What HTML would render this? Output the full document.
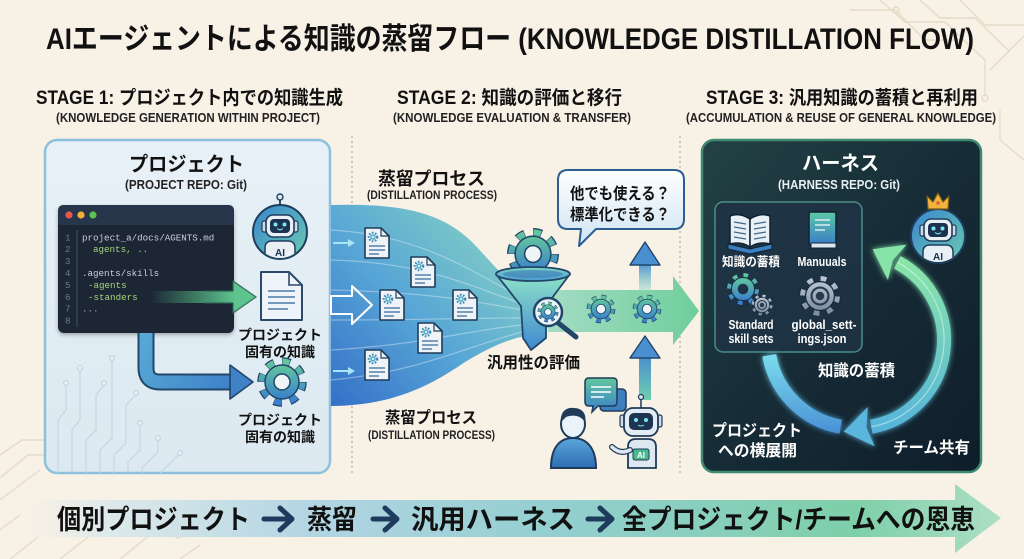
<!DOCTYPE html>
<html><head><meta charset="utf-8"><style>
html,body{margin:0;padding:0;background:#f8f1e6;}
svg{display:block;}
text{font-family:"Liberation Sans","Noto Sans CJK JP",sans-serif;font-weight:700;}
.m{font-family:"Liberation Mono","DejaVu Sans Mono",monospace;font-weight:400;}
</style></head><body>
<svg xmlns="http://www.w3.org/2000/svg" width="1024" height="559" viewBox="0 0 1024 559">
<defs>
<linearGradient id="gPanelL" x1="0" y1="0" x2="0" y2="1"><stop offset="0" stop-color="#e7f1f7"/><stop offset="1" stop-color="#dce9f1"/></linearGradient>
<linearGradient id="gPanelR" x1="0" y1="0" x2="1" y2="1"><stop offset="0" stop-color="#234246"/><stop offset="0.5" stop-color="#162c36"/><stop offset="1" stop-color="#0f1d2a"/></linearGradient>
<linearGradient id="gStream" x1="0" y1="1" x2="1" y2="0"><stop offset="0" stop-color="#3470c8"/><stop offset="0.45" stop-color="#58a6d6"/><stop offset="1" stop-color="#8edac0"/></linearGradient>
<linearGradient id="gFade" gradientUnits="userSpaceOnUse" x1="150" y1="0" x2="235" y2="0"><stop offset="0" stop-color="#5cc48c" stop-opacity="0"/><stop offset="1" stop-color="#5cc48c"/></linearGradient>
<linearGradient id="gL" gradientUnits="userSpaceOnUse" x1="146" y1="333" x2="240" y2="390"><stop offset="0" stop-color="#58a8d6"/><stop offset="1" stop-color="#3b7ec8"/></linearGradient>
<linearGradient id="gBig" x1="0" y1="0" x2="1" y2="0"><stop offset="0" stop-color="#a3dcc4"/><stop offset="1" stop-color="#6fce9c"/></linearGradient>
<linearGradient id="gGear" x1="0" y1="0" x2="0" y2="1"><stop offset="0" stop-color="#62c69c"/><stop offset="1" stop-color="#3a80cc"/></linearGradient>
<linearGradient id="gGray" x1="0" y1="0" x2="0" y2="1"><stop offset="0" stop-color="#b8c4d2"/><stop offset="1" stop-color="#7d8ea4"/></linearGradient>
<linearGradient id="gRobot" x1="0" y1="0" x2="1" y2="1"><stop offset="0" stop-color="#3a86cf"/><stop offset="1" stop-color="#6acab0"/></linearGradient>
<linearGradient id="gBubble" x1="0" y1="0" x2="0" y2="1"><stop offset="0" stop-color="#ffffff"/><stop offset="1" stop-color="#cde3f4"/></linearGradient>
<linearGradient id="gUp1" x1="0" y1="0" x2="0" y2="1"><stop offset="0" stop-color="#4a8fd0"/><stop offset="1" stop-color="#8ad6c0" stop-opacity="0.4"/></linearGradient>
<linearGradient id="gUp2" x1="0" y1="0" x2="0" y2="1"><stop offset="0" stop-color="#4a8fd0"/><stop offset="1" stop-color="#6fcfae"/></linearGradient>
<linearGradient id="gFunnel" x1="0" y1="0" x2="0" y2="1"><stop offset="0" stop-color="#8fe2c8"/><stop offset="1" stop-color="#3f88d0"/></linearGradient>
<linearGradient id="gRim" x1="0" y1="0" x2="0" y2="1"><stop offset="0" stop-color="#7fd8c4"/><stop offset="1" stop-color="#4a9ad0"/></linearGradient>
<linearGradient id="gBanner" gradientUnits="userSpaceOnUse" x1="30" y1="0" x2="1001" y2="0"><stop offset="0" stop-color="#f8f1e6"/><stop offset="0.08" stop-color="#dde9ea"/><stop offset="0.3" stop-color="#b1d4e3"/><stop offset="0.55" stop-color="#92cfcf"/><stop offset="0.85" stop-color="#7ecfa9"/><stop offset="1" stop-color="#addfc4"/></linearGradient>
<linearGradient id="gRingR" gradientUnits="userSpaceOnUse" x1="0" y1="250" x2="0" y2="432"><stop offset="0" stop-color="#8ee8a6"/><stop offset="1" stop-color="#56b4dc"/></linearGradient>
<linearGradient id="gRingL" gradientUnits="userSpaceOnUse" x1="0" y1="350" x2="0" y2="432"><stop offset="0" stop-color="#7ee0ee"/><stop offset="1" stop-color="#4a92d6"/></linearGradient>
<linearGradient id="gMan" x1="0" y1="0" x2="0" y2="1"><stop offset="0" stop-color="#5cc8a6"/><stop offset="1" stop-color="#3a7cc8"/></linearGradient>
<linearGradient id="gPerson" x1="0" y1="0" x2="0" y2="1"><stop offset="0" stop-color="#5aa6dc"/><stop offset="1" stop-color="#2f6db4"/></linearGradient>
<filter id="glow" x="-30%" y="-30%" width="160%" height="160%"><feGaussianBlur stdDeviation="3" result="b"/><feMerge><feMergeNode in="b"/><feMergeNode in="SourceGraphic"/></feMerge></filter>
<filter id="sh" x="-10%" y="-10%" width="120%" height="130%"><feDropShadow dx="0" dy="2" stdDeviation="2" flood-opacity="0.3"/></filter>
<clipPath id="clipR"><circle r="26"/></clipPath>
<g id="gear">
<circle r="20" fill="none" stroke="#22466a" stroke-width="9.5" stroke-dasharray="7.85 7.85"/>
<circle r="20" fill="none" stroke="url(#gGear)" stroke-width="7" stroke-dasharray="6.8 8.9" stroke-dashoffset="-0.5"/>
<circle r="17" fill="url(#gGear)" stroke="#22466a" stroke-width="1.5"/>
<circle r="8" fill="#eef4f8" stroke="#22466a" stroke-width="1.5"/>
</g>
<g id="gearT">
<circle r="20" fill="none" stroke="#1a3046" stroke-width="9.5" stroke-dasharray="7.85 7.85"/>
<circle r="20" fill="none" stroke="url(#gGear)" stroke-width="7" stroke-dasharray="6.8 8.9" stroke-dashoffset="-0.5"/>
<circle r="17" fill="url(#gGear)" stroke="#1a3046" stroke-width="1.5"/>
<circle r="7" fill="#1e3245" stroke="#1a3046" stroke-width="1.5"/>
</g>
<g id="gearG">
<circle r="20" fill="none" stroke="#1a2a3a" stroke-width="9.5" stroke-dasharray="7.85 7.85"/>
<circle r="20" fill="none" stroke="url(#gGray)" stroke-width="7" stroke-dasharray="6.8 8.9" stroke-dashoffset="-0.5"/>
<circle r="17" fill="url(#gGray)" stroke="#1a2a3a" stroke-width="1.5"/>
<circle r="10" fill="none" stroke="#2a3a4c" stroke-width="2.5"/>
<circle r="5" fill="#2a3a4c"/>
</g>
<g id="doc">
<path d="M0,0 H16 L24,8 V30 H0 Z" fill="#eef3f8" stroke="#1f3b58" stroke-width="1.6" stroke-linejoin="round"/>
<path d="M16,0 V8 H24" fill="none" stroke="#1f3b58" stroke-width="1.2"/>
<circle cx="8" cy="9" r="4.2" fill="none" stroke="#3a8ab8" stroke-width="2.2" stroke-dasharray="1.6 1.5"/>
<circle cx="8" cy="9" r="2.8" fill="#5cb0c8"/>
<circle cx="8" cy="9" r="1.1" fill="#eef3f8"/>
<line x1="4" y1="18" x2="20" y2="18" stroke="#3d6f9e" stroke-width="1.3"/>
<line x1="4" y1="22" x2="20" y2="22" stroke="#3d6f9e" stroke-width="1.3"/>
<line x1="4" y1="26" x2="14" y2="26" stroke="#3d6f9e" stroke-width="1.3"/>
</g>
<g id="robotCore">
<circle r="27" fill="url(#gRobot)" stroke="#1f3d5c" stroke-width="2"/>
<g clip-path="url(#clipR)">
<path d="M-15,30 V16 Q-15,9 -8,9 H8 Q15,9 15,16 V30 Z" fill="#e8eff5" stroke="#1f3d5c" stroke-width="1.5"/>
<text x="0" y="24" font-size="10" text-anchor="middle" fill="#1c3350">AI</text>
</g>
<rect x="-18" y="-11" width="5" height="11" rx="2" fill="#cfdbe6" stroke="#1f3d5c" stroke-width="1.2"/>
<rect x="13" y="-11" width="5" height="11" rx="2" fill="#cfdbe6" stroke="#1f3d5c" stroke-width="1.2"/>
<rect x="-14" y="-17" width="28" height="22" rx="7" fill="#e8eff5" stroke="#1f3d5c" stroke-width="1.6"/>
<rect x="-10" y="-13" width="20" height="14" rx="4" fill="#1c3350"/>
<circle cx="-4.5" cy="-7.5" r="2" fill="#7ee6f2"/>
<circle cx="4.5" cy="-7.5" r="2" fill="#7ee6f2"/>
<path d="M-3,-3.5 Q0,-1 3,-3.5" fill="none" stroke="#7ee6f2" stroke-width="1.1"/>
</g>
</defs>

<rect width="1024" height="559" fill="#f8f1e6"/>

<!-- background circuits -->
<g stroke="#e6dbc8" stroke-width="1.4" fill="none">
<path d="M880,0 L905,22 H945 L985,60 V95"/>
<path d="M920,0 L940,18 H975 L1010,52"/>
<path d="M960,0 L985,25 H1024"/>
<path d="M850,10 H895 L925,40 H960"/>
<path d="M990,70 L1024,36"/>
<path d="M1000,110 V140 L1024,160"/>
<path d="M0,455 L22,440 H60"/>
<path d="M0,478 L28,455 H50 L65,445"/>
<path d="M0,500 L40,470"/>
<path d="M0,530 L20,515"/>
<path d="M10,559 L60,520"/>
<path d="M60,559 L110,520 H135"/>
<path d="M120,559 L150,535 H175"/>
<path d="M180,559 L200,545"/>
</g>
<g fill="none" stroke="#e3d6c2" stroke-width="1.2">
<circle cx="896" cy="10" r="3"/><circle cx="985" cy="98" r="3"/><circle cx="138" cy="520" r="3"/><circle cx="178" cy="535" r="3"/><circle cx="63" cy="440" r="3"/>
</g>

<!-- title -->
<text x="46" y="49" font-size="30" textLength="928" lengthAdjust="spacingAndGlyphs" fill="#111">AIエージェントによる知識の蒸留フロー (KNOWLEDGE DISTILLATION FLOW)</text>

<!-- stage headers -->
<text x="36" y="104" font-size="19" textLength="307" lengthAdjust="spacingAndGlyphs" fill="#111">STAGE 1: プロジェクト内での知識生成</text>
<text x="56" y="122" font-size="12.5" textLength="264" lengthAdjust="spacingAndGlyphs" fill="#222">(KNOWLEDGE GENERATION WITHIN PROJECT)</text>
<text x="397" y="104" font-size="19" textLength="225" lengthAdjust="spacingAndGlyphs" fill="#111">STAGE 2: 知識の評価と移行</text>
<text x="393" y="122" font-size="12.5" textLength="238" lengthAdjust="spacingAndGlyphs" fill="#222">(KNOWLEDGE EVALUATION &amp; TRANSFER)</text>
<text x="706" y="104" font-size="19" textLength="272" lengthAdjust="spacingAndGlyphs" fill="#111">STAGE 3: 汎用知識の蓄積と再利用</text>
<text x="686" y="122" font-size="12.5" textLength="310" lengthAdjust="spacingAndGlyphs" fill="#222">(ACCUMULATION &amp; REUSE OF GENERAL KNOWLEDGE)</text>

<!-- dotted separators -->
<line x1="352" y1="136" x2="352" y2="474" stroke="#b8b0a4" stroke-width="1.3" stroke-dasharray="2 3"/>
<line x1="680" y1="136" x2="680" y2="474" stroke="#b8b0a4" stroke-width="1.3" stroke-dasharray="2 3"/>

<!-- LEFT PANEL -->
<rect x="45" y="140" width="285" height="333" rx="12" fill="url(#gPanelL)" stroke="#8cc0dc" stroke-width="2.5"/>
<g stroke="#c6d5e0" stroke-width="1.2" fill="none">
<path d="M58,473 V420 L66,410 V385"/>
<path d="M72,473 V430 L80,420 V370"/>
<path d="M86,473 V440 L96,430 V395 L104,385"/>
<path d="M100,473 V450 L112,438 V360"/>
<path d="M114,473 V455 L126,443 V405 L136,395"/>
<path d="M128,473 V462 L140,450 V425"/>
<path d="M142,473 V468 L158,452 V440"/>
<path d="M160,473 L178,455"/>
</g>
<g fill="#e4eff5" stroke="#c6d5e0" stroke-width="1.2">
<circle cx="66" cy="383" r="2.5"/><circle cx="80" cy="368" r="2.5"/><circle cx="104" cy="383" r="2.5"/><circle cx="112" cy="358" r="2.5"/><circle cx="136" cy="393" r="2.5"/><circle cx="140" cy="423" r="2.5"/><circle cx="158" cy="438" r="2.5"/><circle cx="180" cy="453" r="2.5"/>
</g>
<text x="129" y="171" font-size="20" textLength="115" lengthAdjust="spacingAndGlyphs" fill="#111">プロジェクト</text>
<text x="125" y="189" font-size="12.5" textLength="122" lengthAdjust="spacingAndGlyphs" fill="#222">(PROJECT REPO: Git)</text>

<!-- code window -->
<g filter="url(#sh)">
<rect x="58" y="205" width="176" height="128" rx="6" fill="#1a2634"/>
</g>
<path d="M64,205 H228 Q234,205 234,211 V225 H58 V211 Q58,205 64,205 Z" fill="#26354a"/>
<circle cx="69" cy="215" r="3.6" fill="#e8584d"/>
<circle cx="81" cy="215" r="3.6" fill="#f1b035"/>
<circle cx="93" cy="215" r="3.6" fill="#5ec24f"/>
<line x1="77" y1="230" x2="77" y2="327" stroke="#435365" stroke-width="1"/>
<g class="m" font-size="9.2" fill="#6d7b8b">
<text class="m" x="65" y="240.3">1</text><text class="m" x="65" y="252.2">2</text><text class="m" x="65" y="264.1">3</text><text class="m" x="65" y="276">4</text><text class="m" x="65" y="287.9">5</text><text class="m" x="65" y="299.8">6</text><text class="m" x="65" y="311.7">7</text><text class="m" x="65" y="323.6">8</text>
</g>
<text class="m" x="82" y="240.3" font-size="9.2" fill="#c9d1d9">project_a/docs/AGENTS.md</text>
<text class="m" x="93" y="252.2" font-size="9.2" fill="#a5d67a">agents, ..</text>
<text class="m" x="82" y="276" font-size="9.2" fill="#c9d1d9">.agents/skills</text>
<text class="m" x="88" y="287.9" font-size="9.2" fill="#a5d67a">-agents</text>
<text class="m" x="88" y="299.8" font-size="9.2" fill="#a5d67a">-standers</text>
<text class="m" x="82" y="311.7" font-size="9.2" fill="#9aa6b2">...</text>

<!-- green arrow -->
<path d="M150,291 L233,291 L233,281 L256,297 L233,313 L233,303 L150,303 Z" fill="url(#gFade)"/>
<path d="M205,291 H233 V281 L256,297 L233,313 V303 H205" fill="none" stroke="#2d5f52" stroke-width="1.4" stroke-linejoin="round" opacity="0.8"/>

<!-- robot left -->
<g transform="translate(280,232)">
<line x1="0" y1="-17" x2="0" y2="-33" stroke="#1f3d5c" stroke-width="1.8"/>
<use href="#robotCore"/>
<circle cx="0" cy="-35" r="3" fill="#dfe8f0" stroke="#1f3d5c" stroke-width="1.4"/>
</g>

<!-- doc icon -->
<path d="M261,272 H289 L302,285 V320 H261 Z" fill="#eef4fa" stroke="#2b4a6a" stroke-width="2" stroke-linejoin="round"/>
<path d="M289,272 V285 H302" fill="none" stroke="#2b4a6a" stroke-width="1.6"/>
<g stroke="#4a7aa8" stroke-width="1.6"><line x1="268" y1="291" x2="295" y2="291"/><line x1="268" y1="297" x2="295" y2="297"/><line x1="268" y1="303" x2="295" y2="303"/><line x1="268" y1="309" x2="288" y2="309"/></g>
<text x="280" y="340" font-size="14" text-anchor="middle" fill="#111">プロジェクト</text>
<text x="280" y="357" font-size="14" text-anchor="middle" fill="#111">固有の知識</text>

<!-- L arrow -->
<path d="M146,333 V368 Q146,382 160,382 H233" fill="none" stroke="#23466a" stroke-width="17"/>
<path d="M146,333 V368 Q146,382 160,382 H234" fill="none" stroke="url(#gL)" stroke-width="13"/>
<polygon points="230,365 253,382 230,399" fill="#3f82c8" stroke="#23466a" stroke-width="1.6" stroke-linejoin="round"/>

<use href="#gear" transform="translate(282,382)"/>
<text x="280" y="425" font-size="14" text-anchor="middle" fill="#111">プロジェクト</text>
<text x="280" y="442" font-size="14" text-anchor="middle" fill="#111">固有の知識</text>

<!-- STAGE 2 stream -->
<path d="M331,205 C400,203 440,212 470,240 C490,260 505,282 525,288 L525,336 C505,340 485,350 465,362 C425,390 385,406 331,406 Z" fill="url(#gStream)"/>
<g stroke="#ffffff" stroke-opacity="0.35" stroke-width="1.2" fill="none">
<path d="M331,230 C420,235 470,270 522,298"/>
<path d="M331,260 C420,262 470,285 522,304"/>
<path d="M331,290 C420,292 470,300 522,310"/>
<path d="M331,320 C420,320 470,318 522,318"/>
<path d="M331,350 C420,345 470,330 522,325"/>
<path d="M331,380 C420,372 470,345 522,332"/>
</g>
<g stroke="#a8e6f4" stroke-width="2" fill="#a8e6f4">
<line x1="333" y1="243" x2="350" y2="243"/><polygon points="348,239 355,243 348,247" stroke="none"/>
<line x1="333" y1="371" x2="350" y2="371"/><polygon points="348,367 355,371 348,375" stroke="none"/>
</g>
<polygon points="331,296 352,296 352,286 372,305 352,324 352,314 331,314" fill="none" stroke="#ffffff" stroke-width="2" stroke-linejoin="round"/>
<use href="#doc" x="365" y="228"/>
<use href="#doc" x="411" y="257"/>
<use href="#doc" x="380" y="290"/>
<use href="#doc" x="453" y="290"/>
<use href="#doc" x="418" y="323"/>
<use href="#doc" x="365" y="350"/>

<text x="378" y="185" font-size="18" textLength="107" lengthAdjust="spacingAndGlyphs" fill="#111">蒸留プロセス</text>
<text x="367" y="199" font-size="11.5" textLength="130" lengthAdjust="spacingAndGlyphs" fill="#222">(DISTILLATION PROCESS)</text>
<text x="385" y="423" font-size="16" textLength="92" lengthAdjust="spacingAndGlyphs" fill="#111">蒸留プロセス</text>
<text x="368" y="439" font-size="11.5" textLength="127" lengthAdjust="spacingAndGlyphs" fill="#222">(DISTILLATION PROCESS)</text>

<!-- big arrow -->
<path d="M548,290 L673,290 L673,276 L699,311 L673,345 L673,332 L548,332 Z" fill="url(#gBig)"/>
<use href="#gear" transform="translate(601,309) scale(0.58)"/>
<use href="#gear" transform="translate(647,309) scale(0.58)"/>

<!-- funnel -->
<use href="#gear" transform="translate(533,254) scale(1.05)"/>
<path d="M496,274 L570,274 L546,306 L546,338 L531,350 L523,338 L521,306 Z" fill="url(#gFunnel)" stroke="#22466a" stroke-width="1.8" stroke-linejoin="round"/>
<ellipse cx="533" cy="274" rx="37" ry="7" fill="url(#gRim)" stroke="#22466a" stroke-width="1.8"/>
<ellipse cx="533" cy="274" rx="30" ry="4" fill="#3d78b8" opacity="0.6"/>
<line x1="557" y1="322" x2="576" y2="337" stroke="#22466a" stroke-width="5" stroke-linecap="round"/>
<circle cx="548" cy="312" r="14" fill="#e9f3f6" stroke="#22466a" stroke-width="2.5"/>
<use href="#gear" transform="translate(548,312) scale(0.42)"/>
<text x="487" y="368" font-size="16" textLength="93" lengthAdjust="spacingAndGlyphs" fill="#111">汎用性の評価</text>

<!-- speech bubble -->
<path d="M568,170 H674 Q684,170 684,180 V219 Q684,229 674,229 H596 L579,246 L581,229 H568 Q558,229 558,219 V180 Q558,170 568,170 Z" fill="url(#gBubble)" stroke="#2a5f90" stroke-width="2" stroke-linejoin="round"/>
<text x="570" y="199" font-size="16" textLength="100" lengthAdjust="spacingAndGlyphs" fill="#111">他でも使える？</text>
<text x="570" y="220" font-size="16" textLength="100" lengthAdjust="spacingAndGlyphs" fill="#111">標準化できる？</text>

<!-- up arrows -->
<rect x="639" y="263" width="12" height="28" fill="url(#gUp1)"/>
<polygon points="630,265 645,242 660,265" fill="#4a8fd0" stroke="#23466a" stroke-width="1.4" stroke-linejoin="round"/>
<rect x="639" y="356" width="12" height="44" fill="url(#gUp2)"/>
<polygon points="630,358 645,336 660,358" fill="#4a8fd0" stroke="#23466a" stroke-width="1.4" stroke-linejoin="round"/>

<!-- person -->
<path d="M551,468 C551,446 561,438 573,438 C585,438 596,446 596,468 Z" fill="url(#gPerson)" stroke="#1f3b58" stroke-width="2"/>
<ellipse cx="573" cy="424" rx="12" ry="14" fill="#eaf3fa" stroke="#1f3b58" stroke-width="2"/>
<path d="M561,422 C560,410 568,407 574,408 C582,408 587,414 585,422 C581,416 574,414 566,417 Z" fill="#1f3b58"/>
<!-- chat -->
<rect x="600" y="389" width="26" height="22" rx="4" fill="#3f7fc0" stroke="#1f3b58" stroke-width="1.5"/>
<path d="M589,378 H613 Q617,378 617,382 V402 Q617,406 613,406 H598 L592,412 L593,406 H589 Q585,406 585,402 V382 Q585,378 589,378 Z" fill="url(#gGear)" stroke="#1f3b58" stroke-width="1.5"/>
<g stroke="#ffffff" stroke-width="1.5"><line x1="591" y1="387" x2="611" y2="387"/><line x1="591" y1="392" x2="611" y2="392"/><line x1="591" y1="397" x2="604" y2="397"/></g>
<!-- small robot -->
<line x1="641" y1="408" x2="641" y2="398" stroke="#1f3b58" stroke-width="1.5"/>
<circle cx="641" cy="397" r="2.5" fill="#dfe8f0" stroke="#1f3b58" stroke-width="1.2"/>
<path d="M628,468 V447 Q628,439 636,439 H648 Q656,439 656,447 V468 Z" fill="#dde8f2" stroke="#1f3b58" stroke-width="1.8"/>
<path d="M630,450 Q620,455 612,447" fill="none" stroke="#1f3b58" stroke-width="6" stroke-linecap="round"/>
<path d="M630,450 Q620,455 612,447" fill="none" stroke="#dde8f2" stroke-width="3.5" stroke-linecap="round"/>
<rect x="633" y="449" width="16" height="11" rx="2" fill="#4cb890" stroke="#1f3b58" stroke-width="1"/>
<text x="641" y="458" font-size="8" text-anchor="middle" fill="#ffffff">AI</text>
<rect x="620" y="415" width="5" height="12" rx="2" fill="#cfdbe6" stroke="#1f3b58" stroke-width="1.2"/>
<rect x="657" y="415" width="5" height="12" rx="2" fill="#cfdbe6" stroke="#1f3b58" stroke-width="1.2"/>
<rect x="624" y="408" width="34" height="28" rx="9" fill="#e3ecf5" stroke="#1f3b58" stroke-width="1.8"/>
<rect x="629" y="413" width="24" height="17" rx="5" fill="#1d3550"/>
<circle cx="636" cy="420" r="2" fill="#7ee6f2"/><circle cx="646" cy="420" r="2" fill="#7ee6f2"/>
<path d="M638,425 Q641,427 644,425" fill="none" stroke="#7ee6f2" stroke-width="1"/>

<!-- RIGHT PANEL -->
<rect x="702" y="140" width="279" height="332" rx="12" fill="url(#gPanelR)" stroke="#3f8a72" stroke-width="2.5"/>
<text x="802" y="170" font-size="20" textLength="77" lengthAdjust="spacingAndGlyphs" fill="#ffffff">ハーネス</text>
<text x="778" y="189" font-size="12.5" textLength="122" lengthAdjust="spacingAndGlyphs" fill="#e8eef2">(HARNESS REPO: Git)</text>

<rect x="715" y="202" width="147" height="150" rx="8" fill="#1e3244" fill-opacity="0.85" stroke="#4a8e86" stroke-width="1.5"/>
<!-- open book -->
<path d="M728,244 L750,249 L772,244 V249 L750,254 L728,249 Z" fill="#3b7fc0" stroke="#0f2234" stroke-width="1"/>
<path d="M750,219 C742,214 735,214 730,216 V244 C737,242 744,243 750,247 Z" fill="#e8eff5" stroke="#0f2234" stroke-width="1.5"/>
<path d="M750,219 C758,214 765,214 770,216 V244 C763,242 756,243 750,247 Z" fill="#e8eff5" stroke="#0f2234" stroke-width="1.5"/>
<g stroke="#3c6890" stroke-width="1.2"><line x1="734" y1="222" x2="746" y2="224"/><line x1="734" y1="227" x2="746" y2="229"/><line x1="734" y1="232" x2="746" y2="234"/><line x1="734" y1="237" x2="746" y2="239"/><line x1="754" y1="224" x2="766" y2="222"/><line x1="754" y1="229" x2="766" y2="227"/><line x1="754" y1="234" x2="766" y2="232"/><line x1="754" y1="239" x2="766" y2="237"/></g>
<!-- manual -->
<rect x="809" y="212" width="27" height="33" rx="2" fill="url(#gMan)" stroke="#0f2234" stroke-width="1.5"/>
<rect x="811" y="243" width="25" height="5" fill="#e0e8ef" stroke="#0f2234" stroke-width="1"/>
<g stroke="#e8f2f6" stroke-width="1.4"><line x1="815" y1="220" x2="830" y2="220"/><line x1="815" y1="225" x2="830" y2="225"/><line x1="815" y1="230" x2="825" y2="230"/></g>
<text x="751" y="266" font-size="12.5" text-anchor="middle" textLength="58" lengthAdjust="spacingAndGlyphs" fill="#ffffff">知識の蓄積</text>
<text x="822" y="266" font-size="12.5" text-anchor="middle" textLength="49" lengthAdjust="spacingAndGlyphs" fill="#ffffff">Manuuals</text>
<use href="#gearT" transform="translate(743,289) scale(0.68)"/>
<use href="#gearG" transform="translate(762,305) scale(0.45)"/>
<use href="#gearG" transform="translate(820,296) scale(0.85)"/>
<text x="751" y="329" font-size="12.5" text-anchor="middle" textLength="45" lengthAdjust="spacingAndGlyphs" fill="#ffffff">Standard</text>
<text x="751" y="343" font-size="12.5" text-anchor="middle" textLength="45" lengthAdjust="spacingAndGlyphs" fill="#ffffff">skill sets</text>
<text x="824" y="329" font-size="12.5" text-anchor="middle" textLength="65" lengthAdjust="spacingAndGlyphs" fill="#ffffff">global_sett-</text>
<text x="822" y="343" font-size="12.5" text-anchor="middle" textLength="49" lengthAdjust="spacingAndGlyphs" fill="#ffffff">ings.json</text>

<!-- ring -->
<g filter="url(#glow)">
<path d="M897.3,262.3 A88,88 0 0 1 871.3,426.7" fill="none" stroke="url(#gRingR)" stroke-width="14"/>
<path d="M769.3,355.3 A88,88 0 0 0 840.7,426.7" fill="none" stroke="url(#gRingL)" stroke-width="14"/>
<polygon points="872.6,249.2 906.7,244.6 892.9,260 887.9,280" fill="#86e4a8"/>
<polygon points="843.7,431.6 874.8,446.4 866.4,427.6 867.8,407" fill="#5ab6dc"/>
</g>
<path d="M897.3,262.3 A88,88 0 0 1 871.3,426.7" fill="none" stroke="#e8fff0" stroke-opacity="0.5" stroke-width="1.2"/>

<!-- crowned robot -->
<g transform="translate(938,236)">
<use href="#robotCore"/>
<polygon points="-10,-27 -11,-40 -5,-34 0,-43 5,-34 11,-40 10,-27" fill="#f0b43a" stroke="#7a5a1a" stroke-width="1.2" stroke-linejoin="round"/>
<circle cx="0" cy="-33" r="1.8" fill="#e25a4a"/>
</g>

<text x="818" y="376" font-size="16" textLength="77" lengthAdjust="spacingAndGlyphs" fill="#ffffff">知識の蓄積</text>
<text x="712" y="436" font-size="16" textLength="90" lengthAdjust="spacingAndGlyphs" fill="#ffffff">プロジェクト</text>
<text x="718" y="456" font-size="16" textLength="79" lengthAdjust="spacingAndGlyphs" fill="#ffffff">への横展開</text>
<text x="893" y="453" font-size="16" textLength="77" lengthAdjust="spacingAndGlyphs" fill="#ffffff">チーム共有</text>

<!-- bottom banner -->
<polygon points="30,500 955,500 955,484 1001,518 955,553 955,537 30,537" fill="url(#gBanner)"/>
<text x="57" y="529" font-size="27" textLength="193" lengthAdjust="spacingAndGlyphs" fill="#111">個別プロジェクト</text>
<text x="307" y="529" font-size="27" textLength="50" lengthAdjust="spacingAndGlyphs" fill="#111">蒸留</text>
<text x="411" y="529" font-size="27" textLength="164" lengthAdjust="spacingAndGlyphs" fill="#111">汎用ハーネス</text>
<text x="622" y="529" font-size="27" textLength="353" lengthAdjust="spacingAndGlyphs" fill="#111">全プロジェクト/チームへの恩恵</text>
<g stroke="#1e3a5c" stroke-width="5" fill="none" stroke-linecap="round" stroke-linejoin="round">
<path d="M264,519 H290"/><path d="M280,508 L292,519 L280,530"/>
<path d="M373,519 H395"/><path d="M385,508 L397,519 L385,530"/>
<path d="M588,519 H610"/><path d="M600,508 L612,519 L600,530"/>
</g>
</svg>
</body></html>
